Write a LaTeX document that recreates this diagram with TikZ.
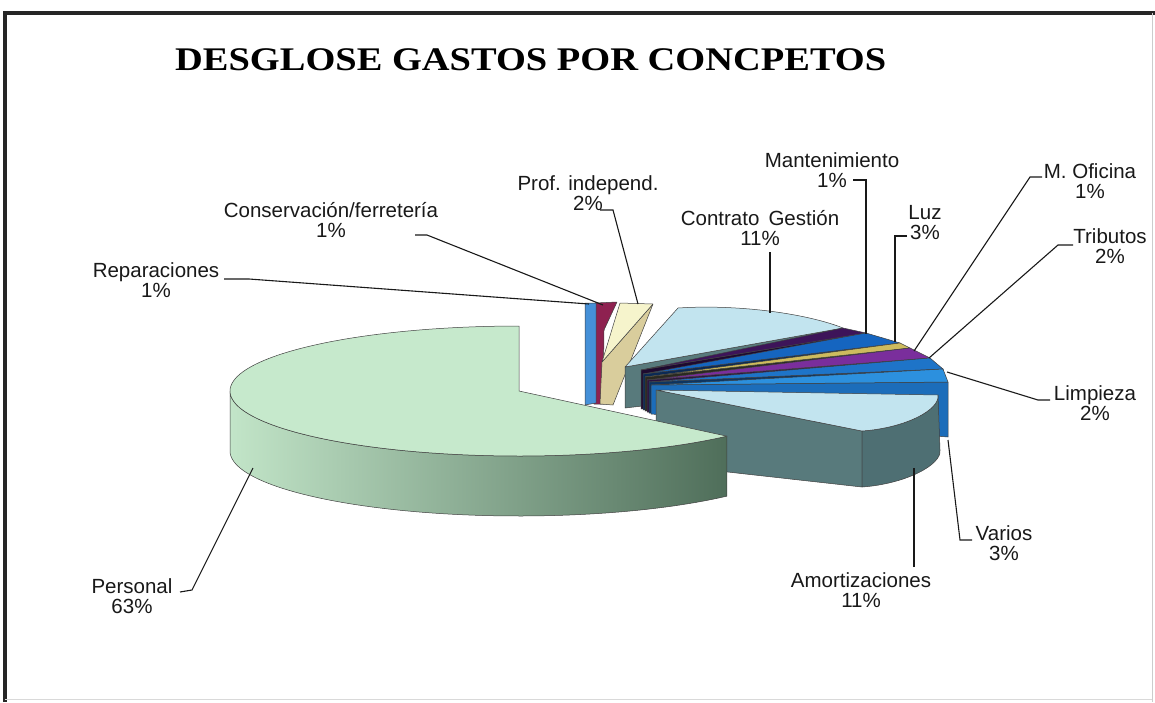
\documentclass[tikz,border=0pt]{standalone}
\usepackage{fontspec}
\usepackage{graphicx}
\setmainfont{Liberation Sans}
\newfontfamily\titlefont{Liberation Serif}
\definecolor{pgT}{HTML}{C6E9CC}
\definecolor{pgL}{HTML}{C2E5C8}
\definecolor{pgM}{HTML}{B2D6B8}
\definecolor{pgD}{HTML}{4F6E5A}
\definecolor{cyT}{HTML}{C2E4EF}
\definecolor{cyC}{HTML}{587A7C}
\definecolor{cyR}{HTML}{4E6F73}
\definecolor{repB}{HTML}{4590D8}
\definecolor{consM}{HTML}{8E2150}
\definecolor{profT}{HTML}{F6F4CC}
\definecolor{profC}{HTML}{D9CD9C}
\definecolor{mantT}{HTML}{3D1459}
\definecolor{mantC}{HTML}{1E0A30}
\definecolor{luzT}{HTML}{1565C0}
\definecolor{luzC}{HTML}{0B2A55}
\definecolor{mofT}{HTML}{CDBB5E}
\definecolor{mofC}{HTML}{2A2A20}
\definecolor{tribT}{HTML}{7A2E9C}
\definecolor{tribC}{HTML}{2C1240}
\definecolor{limpT}{HTML}{1E74C8}
\definecolor{limpC}{HTML}{0C3562}
\definecolor{varT}{HTML}{2C90DE}
\definecolor{varC}{HTML}{1C6DBA}
\begin{document}
\begin{tikzpicture}[x=1pt,y=-1pt,
  edge/.style={draw=black!75, line width=0.5pt, line join=round},
  lab/.style={font=\fontsize{20.5}{20}\selectfont, align=center, inner sep=0pt, anchor=north, text=black!90},
  leader/.style={draw=black!90, line width=1.1pt, line join=miter},
]
\useasboundingbox (0,0) rectangle (1155,702);
\fill[white] (0,0) rectangle (1155,702);
% frame
\draw[line width=4pt, black!85] (5,702) -- (5,13) -- (1155,13);
\draw[black!20, line width=1pt] (1152,13) -- (1152,702);
\draw[black!15, line width=1pt] (5,699) -- (1152,699);

% title
\node[anchor=base west, inner sep=0pt] (title) at (175,70)
  {\scalebox{1.165}[1]{\titlefont\bfseries\fontsize{33}{33}\selectfont DESGLOSE GASTOS POR CONCPETOS}};

% ---- back slices near the top
\filldraw[edge, fill=consM] (595,303) -- (617,302) -- (604,330) -- (603,404) -- (594,404) -- cycle;
\filldraw[edge, fill=repB] (585,303) -- (596,303) -- (596,403) -- (585,405) -- cycle;
\filldraw[edge, fill=profC] (602,362) -- (653,304) -- (613,405) -- (600,404) -- cycle;
\filldraw[edge, fill=profT] (620,303) -- (653,304) -- (602,362) -- cycle;

% ---- Contrato Gestion
\filldraw[edge, fill=cyC] (625,367) -- (843,328) -- (843,383) -- (625,408) -- cycle;
\filldraw[edge, fill=cyT] (625,367) -- (678,308) .. controls (740,304) and (808,314) .. (843,328) -- cycle;

% ---- thin slices (cut face, then top face)
% Mantenimiento
\filldraw[edge, fill=mantC] (641,370) -- (866,333) -- (866,388) -- (641,409) -- cycle;
\filldraw[edge, fill=mantT] (641,370) -- (843,328) -- (866,333) -- cycle;
% Luz
\filldraw[edge, fill=luzC] (643,374) -- (900,343) -- (900,398) -- (643,410) -- cycle;
\filldraw[edge, fill=luzT] (643,374) -- (866,333) -- (900,343) -- cycle;
% M. Oficina
\filldraw[edge, fill=mofC] (645,377) -- (910,348) -- (910,403) -- (645,411) -- cycle;
\filldraw[edge, fill=mofT] (645,377) -- (900,343) -- (910,348) -- cycle;
% Tributos
\filldraw[edge, fill=tribC] (647,380) -- (930,358) -- (930,413) -- (647,412) -- cycle;
\filldraw[edge, fill=tribT] (647,380) -- (910,348) -- (930,358) -- cycle;
% Limpieza
\filldraw[edge, fill=limpC] (649,382) -- (943,369) -- (943,424) -- (649,413) -- cycle;
\filldraw[edge, fill=limpT] (649,382) -- (930,358) -- (943,369) -- cycle;
% Varios
\filldraw[edge, fill=varC] (651,385) -- (948,382) -- (948,437) -- (651,414) -- cycle;
\filldraw[edge, fill=varT] (651,385) -- (943,369) -- (948,382) -- cycle;

% ---- Amortizaciones
\filldraw[edge, fill=cyC] (656,390) -- (862,431) -- (862,487) -- (656,464) -- cycle;
\filldraw[edge, fill=cyR] (862,431) .. controls (905,428) and (940,410) .. (938,395)
   -- (940,450) .. controls (942,465) and (905,484) .. (862,487) -- cycle;
\filldraw[edge, fill=cyT] (656,390) -- (938,395) .. controls (940,410) and (905,428) .. (862,431) -- cycle;

% ---- Personal (front)
\draw[edge, left color=pgL, middle color=pgM, right color=pgD]
  plot[domain=180:316, samples=70, variable=\t] ({519+289*cos(\t)},{391-65*sin(\t)})
  -- plot[domain=316:180, samples=70, variable=\t] ({519+289*cos(\t)},{451-65*sin(\t)}) -- cycle;
\filldraw[edge, fill=pgT] (519,391)
  -- plot[domain=90:316, samples=140, variable=\t] ({519+289*cos(\t)},{391-65*sin(\t)}) -- cycle;

% ---- anchor points on the pie
\coordinate (pPers) at (253,468);
\coordinate (pRep) at (589,304);
\coordinate (pCons) at (603,305);
\coordinate (pProf) at (638,304);
\coordinate (pCont) at (770,313);
\coordinate (pMant) at (866,334);
\coordinate (pLuz) at (895,342);
\coordinate (pMOf) at (914,351);
\coordinate (pTrib) at (929,358);
\coordinate (pLimp) at (947,372);
\coordinate (pVar) at (948,440);
\coordinate (pAmor) at (914,468);

% ---- labels
\node[lab] (persL) at (132,578) {Personal\\63\%};
\node[lab] (repL) at (156,262) {Reparaciones\\1\%};
\node[lab] (consL) at (331,202) {Conservación/ferretería\\1\%};
\node[lab] (profL) at (588,175) {Prof. independ.\\2\%};
\node[lab] (contL) at (760,210) {Contrato\, Gestión\\11\%};
\node[lab] (mantL) at (832,152) {Mantenimiento\\1\%};
\node[lab] (luzL) at (925,205) {Luz\\3\%};
\node[lab] (mofL) at (1090,163) {M. Oficina\\1\%};
\node[lab] (tribL) at (1110,228) {Tributos\\2\%};
\node[lab] (limpL) at (1095,385) {Limpieza\\2\%};
\node[lab] (varL) at (1004,525) {Varios\\3\%};
\node[lab] (amorL) at (861,572) {Amortizaciones\\11\%};

% ---- leader start / bend points
\coordinate (tPers) at (180,592); \coordinate (bPers) at (192,590);
\coordinate (tRep) at (224,279); \coordinate (bRep) at (249,279);
\coordinate (tCons) at (415,235); \coordinate (bCons) at (427,235);
\coordinate (tProf) at (600,210); \coordinate (bProf) at (613,210);
\coordinate (tCont) at (770,252);
\coordinate (tMant) at (853,180); \coordinate (bMant) at (866,180);
\coordinate (tLuz) at (907,236); \coordinate (bLuz) at (895,236);
\coordinate (tMOf) at (1042,177); \coordinate (bMOf) at (1030,177);
\coordinate (tTrib) at (1073,245); \coordinate (bTrib) at (1058,245);
\coordinate (tLimp) at (1050,400); \coordinate (bLimp) at (1038,400);
\coordinate (tVar) at (972,540); \coordinate (bVar) at (960,540);
\coordinate (tAmor) at (914,567);

\draw[leader] (tPers) -- (bPers) -- (pPers);
\draw[leader] (tRep) -- (bRep) -- (pRep);
\draw[leader] (tCons) -- (bCons) -- (pCons);
\draw[leader] (tProf) -- (bProf) -- (pProf);
\draw[leader] (tCont) -- (pCont);
\draw[leader] (tMant) -- (bMant) -- (pMant);
\draw[leader] (tLuz) -- (bLuz) -- (pLuz);
\draw[leader] (tMOf) -- (bMOf) -- (pMOf);
\draw[leader] (tTrib) -- (bTrib) -- (pTrib);
\draw[leader] (tLimp) -- (bLimp) -- (pLimp);
\draw[leader] (tVar) -- (bVar) -- (pVar);
\draw[leader] (tAmor) -- (pAmor);
\end{tikzpicture}
\end{document}
